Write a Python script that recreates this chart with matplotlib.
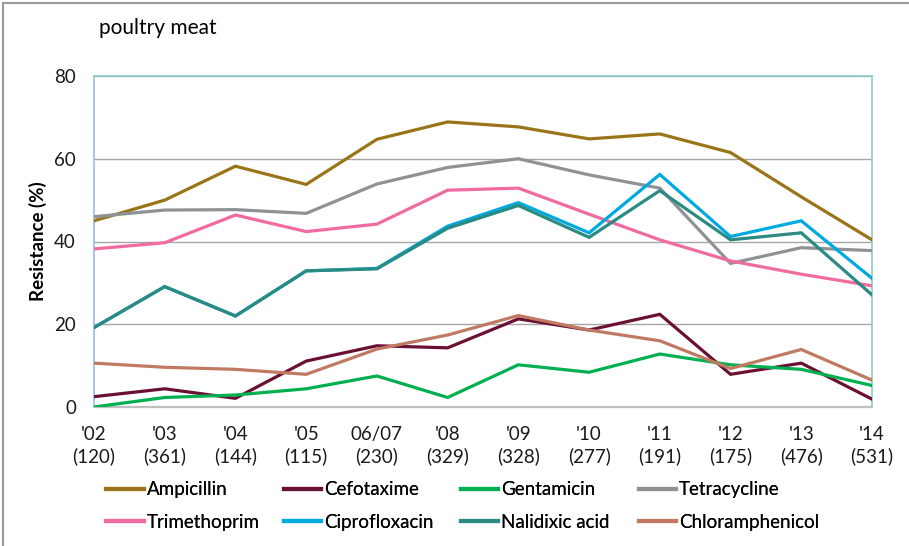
import matplotlib
matplotlib.use("Agg")
import matplotlib.pyplot as plt
from matplotlib.lines import Line2D

plt.rcParams['font.family'] = ['Lato', 'DejaVu Sans']

years = ["'02", "'03", "'04", "'05", "06/07", "'08", "'09", "'10", "'11", "'12", "'13", "'14"]
counts = ["120", "361", "144", "115", "230", "329", "328", "277", "191", "175", "476", "531"]

ampicillin = [45.0, 50.0, 58.2, 53.8, 64.7, 68.9, 67.7, 64.8, 66.0, 61.5, 50.8, 40.4]
cefotaxime = [2.5, 4.4, 2.1, 11.1, 14.8, 14.3, 21.3, 18.6, 22.4, 7.9, 10.6, 1.9]
gentamicin = [0.0, 2.3, 2.9, 4.4, 7.5, 2.3, 10.2, 8.4, 12.8, 10.2, 9.1, 5.2]
tetracycline = [46.0, 47.6, 47.7, 46.8, 53.9, 57.9, 60.0, 56.1, 52.9, 34.7, 38.5, 37.8]
trimethoprim = [38.2, 39.7, 46.4, 42.4, 44.2, 52.4, 52.9, 46.6, 40.4, 35.3, 32.1, 29.3]
ciprofloxacin = [19.2, 29.1, 22.0, 32.9, 33.5, 43.7, 49.4, 42.1, 56.2, 41.2, 45.0, 31.1]
nalidixic_acid = [19.2, 29.1, 22.0, 32.9, 33.4, 43.2, 48.7, 41.0, 52.3, 40.4, 42.1, 27.1]
chloramphenicol = [10.6, 9.6, 9.1, 7.9, 14.0, 17.4, 22.1, 18.6, 16.0, 9.3, 13.9, 6.5]

series = [
    ("Ampicillin", ampicillin, "#9a7418"),
    ("Cefotaxime", cefotaxime, "#6b1035"),
    ("Gentamicin", gentamicin, "#00b050"),
    ("Tetracycline", tetracycline, "#8e9294"),
    ("Trimethoprim", trimethoprim, "#f06ba0"),
    ("Ciprofloxacin", ciprofloxacin, "#00a9e0"),
    ("Nalidixic acid", nalidixic_acid, "#2b8a82"),
    ("Chloramphenicol", chloramphenicol, "#c07a62"),
]

FS = 13.5

fig = plt.figure(figsize=(9.09, 5.46), dpi=100)
ax = fig.add_axes([94/909, 1-407/546, (872-94)/909, (407-76)/546])

x = list(range(len(years)))
order = [0, 3, 4, 5, 6, 1, 7, 2]
for i in order:
    name, vals, col = series[i]
    ax.plot(x, vals, color=col, lw=2.3, solid_joinstyle='miter', zorder=3 + i * 0.1)

ax.set_xlim(0, len(years) - 1)
ax.set_ylim(0, 80)
ax.set_yticks([0, 20, 40, 60, 80])
ax.set_xticks(x)
ax.set_xticklabels([f"{y}\n({c})" for y, c in zip(years, counts)], linespacing=1.25)
ax.tick_params(axis='both', length=0, labelsize=FS, colors='#1a1a1a')
ax.tick_params(axis='x', pad=14)
ax.tick_params(axis='y', pad=13)
ax.grid(axis='y', color='#a6a6a6', lw=1.0, zorder=1)
ax.set_axisbelow(True)
ax.spines['top'].set_color('#8ccccc')
ax.spines['right'].set_color('#8ccccc')
ax.spines['left'].set_color('#9bbbe6')
ax.spines['bottom'].set_color('#bfbfbf')
for s in ax.spines.values():
    s.set_linewidth(1.2)
ax.spines['bottom'].set_linewidth(1.6)

ax.set_ylabel("Resistance (%)", fontsize=FS, fontweight='bold')
ax.yaxis.set_label_coords(-0.060, 0.5)

fig.text(99/909, 1-28/546, "poultry meat", fontsize=15, va='center', ha='left')

# legend: 4 columns of 2 entries, placed at fixed column positions
ncol = 4
col_x = [106, 283.5, 461, 638.5]
for c in range(ncol):
    ids = [c, c + ncol]
    handles = [Line2D([0], [0], color=series[i][2], lw=3) for i in ids]
    labels = [series[i][0] for i in ids]
    leg = fig.legend(handles, labels, ncol=1, loc='center left',
                     bbox_to_anchor=(col_x[c]/909, 1-506/546), frameon=False,
                     fontsize=FS, handlelength=2.0, handletextpad=0.16,
                     labelspacing=0.82, borderpad=0, borderaxespad=0)
    fig.add_artist(leg)

# outer frame
fig.add_artist(Line2D([3/909, 3/909], [0, 1-2.5/546], transform=fig.transFigure, color='#9a9a9a', lw=1.5))
fig.add_artist(Line2D([3/909, 1], [1-2.5/546, 1-2.5/546], transform=fig.transFigure, color='#9a9a9a', lw=1.5))

fig.savefig("out.png", dpi=100)
